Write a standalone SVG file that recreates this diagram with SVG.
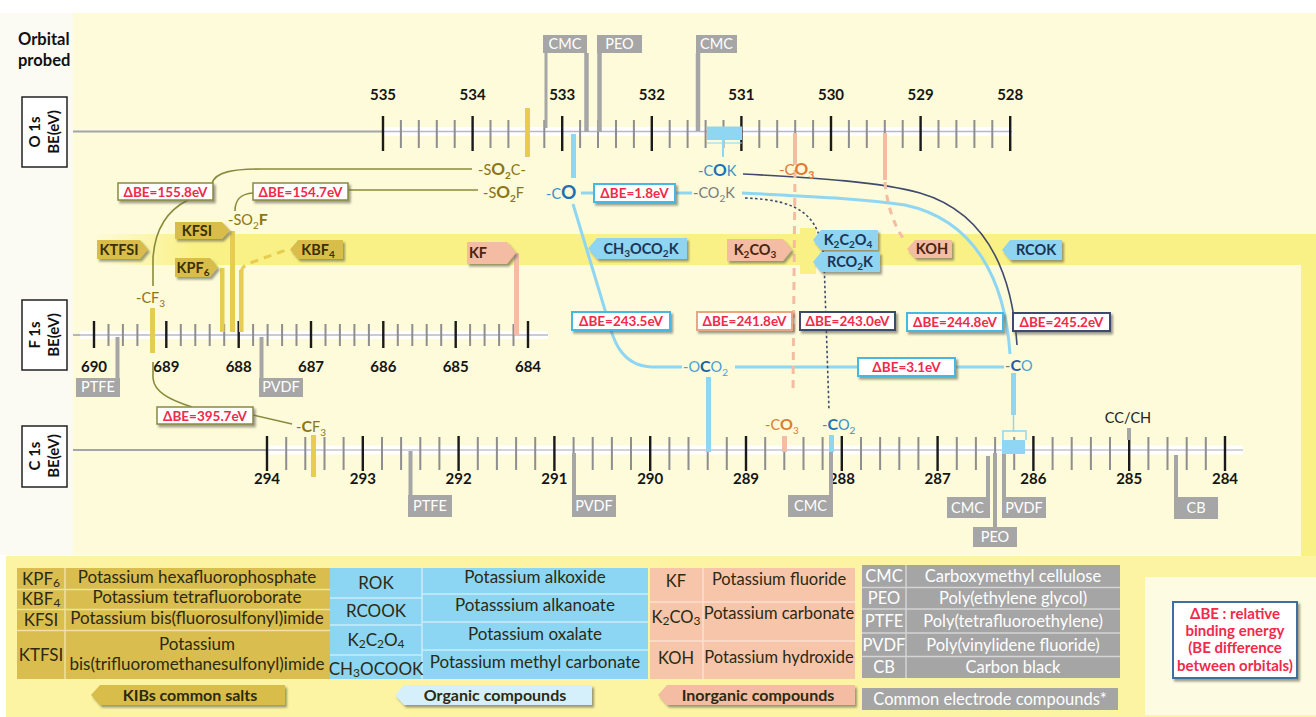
<svg xmlns="http://www.w3.org/2000/svg" width="1316" height="717" viewBox="0 0 1316 717">
<defs>
<style>
text{font-family:Lato,"Open Sans","Liberation Sans",sans-serif}
.num{font-size:15px;font-weight:bold;fill:#151515;text-anchor:middle}
.mj{stroke:#1a1a1a;stroke-width:2.4;fill:none}
.mn{stroke:#8e8e8e;stroke-width:2;fill:none}
.axl{stroke:#a4a4ae;stroke-width:2}
.band{fill:#ffffff}
.gm{fill:#a6a6a6}
.gl{stroke:#a6a6a6;fill:none}
.gt{font-size:14.5px;fill:#fff;text-anchor:middle}
.tagg{fill:#d8bd4c;filter:url(#sh)}
.tagb{fill:#8fd4f1;filter:url(#sh)}
.tagp{fill:#f4bca3;filter:url(#sh)}
.tt{font-size:14.5px;font-weight:bold;text-anchor:middle}
.dbe{fill:#fff;filter:url(#sh)}
.dt{font-size:13.5px;font-weight:bold;fill:#f02a4a;text-anchor:middle}
.ol{stroke:#8a8a3c;stroke-width:1.6;fill:none}
.lb{stroke:#8fd6f2;stroke-width:3;fill:none}
.nv{stroke:#3e4a6e;stroke-width:1.6;fill:none}
.yb{fill:#e6cc50}
.pk{fill:#f4bca3}
.lt{font-size:17px;fill:#2c2a12;text-anchor:middle}
.lt2{font-size:16.5px;fill:#2c2a12;text-anchor:middle}
.wt{font-size:16.5px;fill:#fff;text-anchor:middle}
.lg{font-size:16px;font-weight:bold;fill:#2c2a10;text-anchor:middle}
.rd{font-size:15px;font-weight:bold;fill:#f02a4a;text-anchor:middle}
</style>
<filter id="sh" x="-20%" y="-30%" width="150%" height="180%"><feDropShadow dx="2" dy="2.5" stdDeviation="1.3" flood-color="#5a5a50" flood-opacity="0.6"/></filter>
<linearGradient id="bg1" x1="0" x2="1" y1="0" y2="0"><stop offset="0" stop-color="#faf186" stop-opacity="0"/><stop offset="0.08" stop-color="#faf186" stop-opacity="1"/></linearGradient>
</defs>

<!-- backgrounds -->
<rect x="0" y="0" width="1316" height="717" fill="#fff"/>
<rect x="0" y="13" width="73" height="542" fill="#fbfbf3"/>
<rect x="73" y="13" width="1243" height="542" fill="#fdfbd9"/>
<rect x="95" y="234" width="1221" height="31" fill="url(#bg1)"/>
<rect x="800" y="228" width="16" height="46" fill="#faf186"/>
<rect x="1301" y="265" width="15" height="292" fill="#faf186"/>
<rect x="6" y="556" width="1310" height="161" fill="#fcf4a2"/>
<rect x="1145" y="577" width="171" height="138" fill="#fdfbe2"/>

<!-- orbital labels -->
<g id="orbital-title">
<text x="18" y="45" font-size="16.5" font-weight="bold" fill="#111">Orbital</text>
<text x="18" y="66" font-size="16.5" font-weight="bold" fill="#111">probed</text>
</g>
<g id="o1s-box">
<rect x="22" y="97" width="45" height="70" fill="#fff" stroke="#222" stroke-width="1.5"/>
<text transform="translate(40 132) rotate(-90)" font-size="15" font-weight="bold" text-anchor="middle" fill="#111">O 1s</text>
<text transform="translate(59 132) rotate(-90)" font-size="15" font-weight="bold" text-anchor="middle" fill="#111">BE(eV)</text>
</g>
<g id="f1s-box">
<rect x="22" y="300" width="45" height="70" fill="#fff" stroke="#222" stroke-width="1.5"/>
<text transform="translate(40 335) rotate(-90)" font-size="15" font-weight="bold" text-anchor="middle" fill="#111">F 1s</text>
<text transform="translate(59 335) rotate(-90)" font-size="15" font-weight="bold" text-anchor="middle" fill="#111">BE(eV)</text>
</g>
<g id="c1s-box">
<rect x="22" y="426" width="45" height="61" fill="#fff" stroke="#222" stroke-width="1.5"/>
<text transform="translate(40 456) rotate(-90)" font-size="15" font-weight="bold" text-anchor="middle" fill="#111">C 1s</text>
<text transform="translate(59 456) rotate(-90)" font-size="15" font-weight="bold" text-anchor="middle" fill="#111">BE(eV)</text>
</g>

<!-- O 1s axis -->
<g id="axis-o1s">
<line class="axl" x1="73" y1="131.5" x2="383" y2="131.5"/>
<rect class="band" x="383" y="127" width="630" height="9"/>
<line x1="383" y1="131.5" x2="1012" y2="131.5" stroke="#b8b8c6" stroke-width="1.5"/>
<path class="mn" d="M400.9 120v28M418.8 120v28M436.8 120v28M454.7 120v28M490.5 120v28M508.4 120v28M526.4 120v28M544.3 120v28M580.1 120v28M598 120v28M616 120v28M633.9 120v28M669.7 120v28M687.6 120v28M705.6 120v28M723.5 120v28M759.3 120v28M777.2 120v28M795.2 120v28M813.1 120v28M848.9 120v28M866.8 120v28M884.8 120v28M902.7 120v28M938.5 120v28M956.4 120v28M974.4 120v28M992.3 120v28"/>
<path class="mj" d="M383 116v35M472.6 116v35M562.2 116v35M651.8 116v35M741.4 116v35M831 116v35M920.6 116v35M1010.2 116v35"/>
<text class="num" x="383" y="100">535</text><text class="num" x="472.6" y="100">534</text><text class="num" x="562.2" y="100">533</text><text class="num" x="651.8" y="100">532</text><text class="num" x="741.4" y="100">531</text><text class="num" x="831" y="100">530</text><text class="num" x="920.6" y="100">529</text><text class="num" x="1010.2" y="100">528</text>
</g>

<!-- F 1s axis -->
<g id="axis-f1s">
<line class="axl" x1="73" y1="335" x2="94" y2="335"/>
<rect class="band" x="80" y="331" width="468" height="8"/>
<line x1="73" y1="335" x2="548" y2="335" stroke="#b8b8c6" stroke-width="1.5"/>
<path class="mn" d="M108.5 324v22M122.9 324v22M137.4 324v22M151.9 324v22M180.8 324v22M195.3 324v22M209.7 324v22M224.2 324v22M253.1 324v22M267.6 324v22M282.1 324v22M296.5 324v22M325.5 324v22M339.9 324v22M354.4 324v22M368.9 324v22M397.8 324v22M412.3 324v22M426.7 324v22M441.2 324v22M470.1 324v22M484.6 324v22M499.1 324v22M513.5 324v22"/>
<path class="mj" d="M94 321v27M166.3 321v27M238.7 321v27M311 321v27M383.3 321v27M455.7 321v27M528 321v27"/>
<text class="num" x="94" y="372">690</text><text class="num" x="166.3" y="372">689</text><text class="num" x="238.7" y="372">688</text><text class="num" x="311" y="372">687</text><text class="num" x="383.3" y="372">686</text><text class="num" x="455.7" y="372">685</text><text class="num" x="528" y="372">684</text>
</g>

<!-- C 1s axis -->
<g id="axis-c1s">
<line class="axl" x1="73" y1="450" x2="267" y2="450"/>
<rect class="band" x="267" y="445.5" width="976" height="9"/>
<line x1="267" y1="450" x2="1243" y2="450" stroke="#c4c4d0" stroke-width="1.5"/>
<path class="mn" d="M286.2 437v33M305.3 437v33M324.5 437v33M343.6 437v33M382 437v33M401.1 437v33M420.3 437v33M439.4 437v33M477.8 437v33M496.9 437v33M516.1 437v33M535.2 437v33M573.6 437v33M592.7 437v33M611.9 437v33M631 437v33M669.4 437v33M688.5 437v33M707.7 437v33M726.8 437v33M765.2 437v33M784.3 437v33M803.5 437v33M822.6 437v33M861 437v33M880.1 437v33M899.3 437v33M918.4 437v33M956.8 437v33M975.9 437v33M995.1 437v33M1014.2 437v33M1052.6 437v33M1071.7 437v33M1090.9 437v33M1110 437v33M1148.4 437v33M1167.5 437v33M1186.7 437v33M1205.8 437v33"/>
<path class="mj" d="M267 436v35M362.8 436v35M458.6 436v35M554.4 436v35M650.2 436v35M746 436v35M841.8 436v35M937.6 436v35M1033.4 436v35M1129.2 436v35M1225 436v35"/>
<text class="num" x="267" y="484">294</text><text class="num" x="362.8" y="484">293</text><text class="num" x="458.6" y="484">292</text><text class="num" x="554.4" y="484">291</text><text class="num" x="650.2" y="484">290</text><text class="num" x="746" y="484">289</text><text class="num" x="841.8" y="484">288</text><text class="num" x="937.6" y="484">287</text><text class="num" x="1033.4" y="484">286</text><text class="num" x="1129.2" y="484">285</text><text class="num" x="1225" y="484">284</text>
</g>

<!-- connectors -->
<g id="connectors">
<!-- salts (olive) -->
<path class="ol" d="M472 169 L262 169 C232 169 216 172 212 183"/>
<path class="ol" d="M188 200 C168 210 155 228 153 258 L153 286"/>
<path class="ol" d="M153 362 L153 378 C154 392 170 400 192 407"/>
<path class="ol" d="M253 415 L292 424"/>
<path class="ol" d="M478 190 L348 190"/>
<path class="ol" d="M253 193 C240 194 235 200 235 211"/>
<rect class="yb" x="525" y="108" width="5" height="49"/>
<rect class="yb" x="150" y="308" width="5" height="45"/>
<rect class="yb" x="220" y="268" width="4.5" height="64"/>
<rect class="yb" x="230" y="231" width="5" height="101"/>
<rect class="yb" x="239" y="270" width="4.5" height="62"/>
<path d="M241 272 C242 267 245 265 250 263 L286 250" stroke="#e6cc50" stroke-width="3" stroke-dasharray="8 6" fill="none"/>
<rect class="yb" x="311" y="435" width="5" height="42"/>
<!-- organic (blue) -->
<rect x="571" y="134" width="5" height="44" fill="#8fd6f2"/>
<rect x="707" y="127" width="35" height="13" fill="#8fd6f2"/>
<path d="M707 127H742M707 143H742" stroke="#8fd6f2" stroke-width="1"/>
<rect x="722" y="140" width="2" height="17" fill="#8fd6f2"/>
<path class="lb" d="M581 193 L594 193"/>
<path class="lb" d="M675 193 L692 193"/>
<path class="lb" d="M573 204 L605 310 C612 338 620 366 652 367 L682 367"/>
<path class="lb" d="M735 367 L858 367"/>
<path class="lb" d="M955 367 L1004 367"/>
<path class="lb" d="M742 193 C800 196 860 198 905 205 C975 220 1005 280 1010 354"/>
<path class="nv" d="M743 174 C820 178 880 182 920 193 C985 212 1012 270 1017 345"/>
<path d="M745 198 C800 200 820 215 824 260 L829 410" stroke="#3e4a6e" stroke-width="1.6" stroke-dasharray="2.5 2.5" fill="none"/>
<rect x="706" y="377" width="5" height="75" fill="#8fd6f2"/>
<rect x="1011" y="373" width="5" height="42" fill="#8fd6f2"/>
<path d="M1013.5 415V431M1003 440V431H1026V440" stroke="#8fd6f2" stroke-width="1.5" fill="none"/>
<rect x="1002" y="440" width="23" height="14" fill="#8fd6f2"/>
<rect x="829" y="435" width="5" height="17" fill="#8fd6f2"/>
<!-- inorganic (pink) -->
<rect class="pk" x="514" y="253" width="5" height="82"/>
<rect class="pk" x="793" y="133" width="4" height="32"/>
<path d="M795 170 L793 392" stroke="#f4bca3" stroke-width="3" stroke-dasharray="8 6" fill="none"/>
<rect class="pk" x="782" y="436" width="5" height="16"/>
<rect class="pk" x="883" y="133" width="4" height="47"/>
<path d="M885 182 C887 205 894 225 903 238" stroke="#f4bca3" stroke-width="3" stroke-dasharray="7 6" fill="none"/>
</g>

<!-- delta BE boxes -->
<g id="dbe-155">
<rect class="dbe" x="118" y="183" width="95" height="17" stroke="#8a8a3c" stroke-width="1.5"/>
<text class="dt" x="165.5" y="196.5">ΔBE=155.8eV</text>
</g>
<g id="dbe-154">
<rect class="dbe" x="253" y="183" width="95" height="17" stroke="#8a8a3c" stroke-width="1.5"/>
<text class="dt" x="300.5" y="196.5">ΔBE=154.7eV</text>
</g>
<g id="dbe-1-8">
<rect class="dbe" x="594" y="184" width="81" height="18" stroke="#4ab8e0" stroke-width="2"/>
<text class="dt" x="634.5" y="198">ΔBE=1.8eV</text>
</g>
<g id="dbe-395">
<rect class="dbe" x="157" y="407" width="96" height="17" stroke="#8a8a3c" stroke-width="1.5"/>
<text class="dt" x="205" y="420.5">ΔBE=395.7eV</text>
</g>
<g id="dbe-243-5">
<rect class="dbe" x="572" y="312" width="98" height="18" stroke="#4ab8e0" stroke-width="2"/>
<text class="dt" x="621" y="326">ΔBE=243.5eV</text>
</g>
<g id="dbe-241-8">
<rect class="dbe" x="697" y="312" width="95" height="18" stroke="#e9a585" stroke-width="2"/>
<text class="dt" x="744.5" y="326">ΔBE=241.8eV</text>
</g>
<g id="dbe-243-0">
<rect class="dbe" x="800" y="312" width="95" height="18" stroke="#3e4a6e" stroke-width="2"/>
<text class="dt" x="847.5" y="326">ΔBE=243.0eV</text>
</g>
<g id="dbe-244-8">
<rect class="dbe" x="907" y="313" width="96" height="18" stroke="#4ab8e0" stroke-width="2"/>
<text class="dt" x="955" y="327">ΔBE=244.8eV</text>
</g>
<g id="dbe-245-2">
<rect class="dbe" x="1013" y="313" width="97" height="18" stroke="#3e4a6e" stroke-width="2"/>
<text class="dt" x="1061.5" y="327">ΔBE=245.2eV</text>
</g>
<g id="dbe-3-1">
<rect class="dbe" x="858" y="358" width="97" height="18" stroke="#4ab8e0" stroke-width="2"/>
<text class="dt" x="906.5" y="372">ΔBE=3.1eV</text>
</g>

<!-- chemical group labels -->
<g id="lbl-so2c" font-size="14.5" fill="#8b7518">
<text x="478" y="175">-S<tspan font-weight="bold" font-size="17">O</tspan><tspan font-size="10" font-weight="bold" dy="4">2</tspan><tspan dy="-4">C-</tspan></text>
</g>
<g id="lbl-so2f-o" font-size="14.5" fill="#8b7518">
<text x="483" y="198">-S<tspan font-weight="bold" font-size="17">O</tspan><tspan font-size="10" font-weight="bold" dy="4">2</tspan><tspan dy="-4">F</tspan></text>
</g>
<g id="lbl-so2f-f" font-size="14.5" fill="#8b7518">
<text x="228" y="225">-SO<tspan font-size="10" dy="4">2</tspan><tspan dy="-4" font-weight="bold" font-size="16">F</tspan></text>
</g>
<g id="lbl-cf3-f" font-size="14.5" fill="#8b7518">
<text x="136" y="303">-CF<tspan font-size="10" dy="4">3</tspan></text>
</g>
<g id="lbl-cf3-c" font-size="14.5" fill="#8b7518">
<text x="296" y="432">-<tspan font-weight="bold" font-size="16">C</tspan>F<tspan font-size="10" dy="4">3</tspan></text>
</g>
<g id="lbl-co-o">
<text x="546" y="199" font-size="14.5" fill="#3a8fc8">-C<tspan font-weight="bold" font-size="19" fill="#1f70b5">O</tspan></text>
</g>
<g id="lbl-cok">
<text x="698" y="176" font-size="14.5" fill="#3a8fc8">-C<tspan font-weight="bold" font-size="17" fill="#1f70b5">O</tspan>K</text>
</g>
<g id="lbl-co2k">
<text x="693" y="198" font-size="14.5" fill="#7a7a7a">-CO<tspan font-size="10" dy="4">2</tspan><tspan dy="-4">K</tspan></text>
</g>
<g id="lbl-co3-o">
<text x="779" y="175" font-size="15" fill="#e07a30">-C<tspan font-weight="bold" font-size="17">O</tspan><tspan font-size="10.5" font-weight="bold" dy="4">3</tspan></text>
</g>
<g id="lbl-oco2">
<text x="683" y="372" font-size="14.5" fill="#4a9fd5">-O<tspan font-weight="bold" font-size="16" fill="#1f5f9f">C</tspan>O<tspan font-size="10" dy="4">2</tspan></text>
</g>
<g id="lbl-co-c">
<text x="1005" y="371" font-size="14.5" fill="#777">-<tspan font-weight="bold" font-size="16" fill="#1f5f9f">C</tspan><tspan fill="#4a9fd5">O</tspan></text>
</g>
<g id="lbl-co3-c">
<text x="765" y="430" font-size="14.5" fill="#e07a30">-C<tspan font-weight="bold" font-size="16">O</tspan><tspan font-size="10" dy="4">3</tspan></text>
</g>
<g id="lbl-co2-c">
<text x="822" y="430" font-size="14.5" fill="#3a8fc8">-<tspan font-weight="bold" font-size="16" fill="#1f70b5">C</tspan>O<tspan font-size="10" dy="4">2</tspan></text>
</g>
<g id="lbl-ccch">
<rect x="1127" y="428" width="4" height="12" fill="#a6a6a6"/>
<text x="1128" y="423" font-size="14.5" fill="#222" text-anchor="middle">CC/CH</text>
</g>

<!-- compound tags -->
<g id="tag-ktfsi"><polygon class="tagg" points="97,240 140,240 148,249.5 140,259 97,259"/><text class="tt" x="119" y="254.5" fill="#3a3000">KTFSI</text></g>
<g id="tag-kfsi"><polygon class="tagg" points="175,222 222,222 230,230.5 222,239 175,239"/><text class="tt" x="197" y="235.5" fill="#3a3000">KFSI</text></g>
<g id="tag-kpf6"><polygon class="tagg" points="175,258 210,258 218,267.5 210,277 175,277"/><text class="tt" x="193" y="272.5" fill="#3a3000">KPF<tspan font-size="10" dy="3">6</tspan></text></g>
<g id="tag-kbf4"><polygon class="tagg" points="290,249.5 298,240 343,240 343,259 298,259"/><text class="tt" x="318" y="254.5" fill="#3a3000">KBF<tspan font-size="10" dy="3">4</tspan></text></g>
<g id="tag-kf"><polygon class="tagp" points="467,242 507,242 516,253 507,264 467,264"/><text class="tt" x="478" y="258" fill="#4a2510">KF</text></g>
<g id="tag-ch3oco2k"><polygon class="tagb" points="588,248.5 597,238 687,238 687,259 597,259"/><text class="tt" x="641" y="253.5" fill="#1a3555">CH<tspan font-size="10" dy="3">3</tspan><tspan dy="-3">OCO</tspan><tspan font-size="10" dy="3">2</tspan><tspan dy="-3">K</tspan></text></g>
<g id="tag-k2co3"><polygon class="tagp" points="727,239 783,239 792,250 783,261 727,261"/><text class="tt" x="755" y="255" fill="#4a2510">K<tspan font-size="10" dy="3">2</tspan><tspan dy="-3">CO</tspan><tspan font-size="10" dy="3">3</tspan></text></g>
<g id="tag-k2c2o4"><polygon class="tagb" points="813,240 821,230 878,230 878,250 821,250" /><text class="tt" x="848" y="245" fill="#1a3555">K<tspan font-size="10" dy="3">2</tspan><tspan dy="-3">C</tspan><tspan font-size="10" dy="3">2</tspan><tspan dy="-3">O</tspan><tspan font-size="10" dy="3">4</tspan></text></g>
<g id="tag-rco2k"><polygon class="tagb" points="813,262 821,252 880,252 880,272 821,272"/><text class="tt" x="850" y="267" fill="#1a3555">RCO<tspan font-size="10" dy="3">2</tspan><tspan dy="-3">K</tspan></text></g>
<g id="tag-koh"><polygon class="tagp" points="907,249 915,240 952,240 952,258 915,258"/><text class="tt" x="932" y="254" fill="#4a2510">KOH</text></g>
<g id="tag-rcok"><polygon class="tagb" points="1002,250 1010,240 1062,240 1062,260 1010,260"/><text class="tt" x="1036" y="255" fill="#1a3555">RCOK</text></g>

<!-- common electrode compound markers -->
<g id="mk-o-cmc1"><rect class="gm" x="543" y="35" width="44" height="18"/><path class="gl" stroke-width="3" d="M546 53V128"/><path class="gl" stroke-width="4.5" d="M586.5 53V132"/><text class="gt" x="565" y="49">CMC</text></g>
<g id="mk-o-peo"><rect class="gm" x="597" y="35" width="45" height="18"/><path class="gl" stroke-width="4.5" d="M599.5 53V132"/><text class="gt" x="619.5" y="49">PEO</text></g>
<g id="mk-o-cmc2"><rect class="gm" x="696" y="35" width="41" height="18"/><path class="gl" stroke-width="4.5" d="M698 53V131"/><text class="gt" x="716.5" y="49">CMC</text></g>
<g id="mk-f-ptfe"><rect class="gm" x="76" y="378" width="44" height="19"/><path class="gl" stroke-width="4" d="M117.5 337V378"/><text class="gt" x="98" y="392">PTFE</text></g>
<g id="mk-f-pvdf"><rect class="gm" x="259" y="378" width="44" height="19"/><path class="gl" stroke-width="4" d="M261.5 337V378"/><text class="gt" x="281" y="392">PVDF</text></g>
<g id="mk-c-ptfe"><rect class="gm" x="408" y="495" width="44" height="22"/><path class="gl" stroke-width="4" d="M410.5 451V495"/><text class="gt" x="430" y="511">PTFE</text></g>
<g id="mk-c-pvdf1"><rect class="gm" x="572" y="495" width="44" height="22"/><path class="gl" stroke-width="4" d="M574 453V495"/><text class="gt" x="594" y="511">PVDF</text></g>
<g id="mk-c-cmc1"><rect class="gm" x="788" y="495" width="45" height="22"/><path class="gl" stroke-width="4" d="M831 452V495"/><text class="gt" x="810.5" y="511">CMC</text></g>
<g id="mk-c-cmc2"><rect class="gm" x="947" y="497" width="43" height="21"/><path class="gl" stroke-width="4" d="M988 456V497"/><text class="gt" x="967.5" y="512.5">CMC</text></g>
<g id="mk-c-peo"><rect class="gm" x="973" y="527" width="44" height="20"/><path class="gl" stroke-width="4" d="M995 453V527"/><text class="gt" x="995" y="542">PEO</text></g>
<g id="mk-c-pvdf2"><rect class="gm" x="1002" y="497" width="44" height="21"/><path class="gl" stroke-width="4" d="M1004 454V497"/><text class="gt" x="1024" y="512.5">PVDF</text></g>
<g id="mk-c-cb"><rect class="gm" x="1174" y="497" width="44" height="22"/><path class="gl" stroke-width="4" d="M1176 455V497"/><text class="gt" x="1196" y="513">CB</text></g>

<!-- legend tables -->
<g id="legend-salts">
<rect x="17" y="568" width="313" height="111" fill="#d9bd4e"/>
<path d="M65 568V679M17 589.5H330M17 609.5H330M17 630.5H330" stroke="#efe1a2" stroke-width="1.5"/>
<text class="lt" x="41" y="585">KPF<tspan font-size="12" dy="2">6</tspan></text>
<text class="lt" x="197" y="583">Potassium hexafluorophosphate</text>
<text class="lt" x="41" y="605">KBF<tspan font-size="12" dy="2">4</tspan></text>
<text class="lt" x="197" y="603">Potassium tetrafluoroborate</text>
<text class="lt" x="41" y="626">KFSI</text>
<text class="lt" x="197" y="624">Potassium bis(fluorosulfonyl)imide</text>
<text class="lt" x="41" y="661">KTFSI</text>
<text class="lt" x="197" y="650">Potassium</text>
<text class="lt" x="197" y="670" font-size="16.5">bis(trifluoromethanesulfonyl)imide</text>
</g>
<g id="legend-organic">
<rect x="330" y="568" width="318" height="111" fill="#8dd6f3"/>
<path d="M422 568V679M330 598H422M330 625H422M330 655H422M422 594H648M422 622H648M422 650H648" stroke="#c8ecfa" stroke-width="1.5"/>
<text class="lt" x="376" y="589">ROK</text>
<text class="lt" x="376" y="617">RCOOK</text>
<text class="lt" x="376" y="646">K<tspan font-size="12" dy="2">2</tspan><tspan dy="-2">C</tspan><tspan font-size="12" dy="2">2</tspan><tspan dy="-2">O</tspan><tspan font-size="12" dy="2">4</tspan></text>
<text class="lt" x="376" y="675" font-size="16">CH<tspan font-size="12" dy="2">3</tspan><tspan dy="-2">OCOOK</tspan></text>
<text class="lt" x="535" y="583">Potassium alkoxide</text>
<text class="lt" x="535" y="611">Potasssium alkanoate</text>
<text class="lt" x="535" y="640">Potassium oxalate</text>
<text class="lt" x="535" y="668">Potassium methyl carbonate</text>
</g>
<g id="legend-inorganic">
<rect x="650" y="568" width="205" height="111" fill="#f7c5aa"/>
<path d="M703 568V679M650 602H855M650 641H855" stroke="#fbe0d0" stroke-width="1.5"/>
<text class="lt2" x="676" y="587">KF</text>
<text class="lt2" x="779" y="585">Potassium fluoride</text>
<text class="lt2" x="676" y="623">K<tspan font-size="12" dy="2">2</tspan><tspan dy="-2">CO</tspan><tspan font-size="12" dy="2">3</tspan></text>
<text class="lt2" x="779" y="619">Potassium carbonate</text>
<text class="lt2" x="676" y="664">KOH</text>
<text class="lt2" x="779" y="663">Potassium hydroxide</text>
</g>
<g id="legend-electrode">
<rect x="862" y="565" width="258" height="113" fill="#a5a5a5"/>
<path d="M906 565V678M862 587.5H1120M862 609H1120M862 633H1120M862 656.5H1120" stroke="#d4d4d4" stroke-width="1.5"/>
<text class="wt" x="884" y="582">CMC</text><text class="wt" x="1013" y="582">Carboxymethyl cellulose</text>
<text class="wt" x="884" y="604">PEO</text><text class="wt" x="1013" y="604">Poly(ethylene glycol)</text>
<text class="wt" x="884" y="627">PTFE</text><text class="wt" x="1013" y="627">Poly(tetrafluoroethylene)</text>
<text class="wt" x="884" y="651">PVDF</text><text class="wt" x="1013" y="651">Poly(vinylidene fluoride)</text>
<text class="wt" x="884" y="673">CB</text><text class="wt" x="1013" y="673">Carbon black</text>
</g>
<g id="legend-tag-salts"><polygon class="tagg" points="91,695 100,685 285,685 285,705 100,705"/><text class="lg" x="190" y="701">KIBs common salts</text></g>
<g id="legend-tag-organic"><polygon points="395,695 404,685 592,685 592,705 404,705" fill="#d5f0fb" filter="url(#sh)"/><text class="lg" x="495" y="701">Organic compounds</text></g>
<g id="legend-tag-inorganic"><polygon class="tagp" points="658,695 667,685 855,685 855,705 667,705"/><text class="lg" x="758" y="701">Inorganic compounds</text></g>
<g id="legend-tag-electrode"><rect x="862" y="688" width="256" height="22" fill="#a5a5a5"/><text x="990" y="705" font-size="16.5" fill="#fff" text-anchor="middle">Common electrode compounds*</text></g>
<g id="legend-dbe">
<rect x="1173" y="602" width="124" height="76" fill="#fff" stroke="#3a6fa0" stroke-width="2" filter="url(#sh)"/>
<text class="rd" x="1235" y="619">ΔBE : relative</text>
<text class="rd" x="1235" y="636">binding energy</text>
<text class="rd" x="1235" y="653">(BE difference</text>
<text class="rd" x="1235" y="671">between orbitals)</text>
</g>
</svg>
